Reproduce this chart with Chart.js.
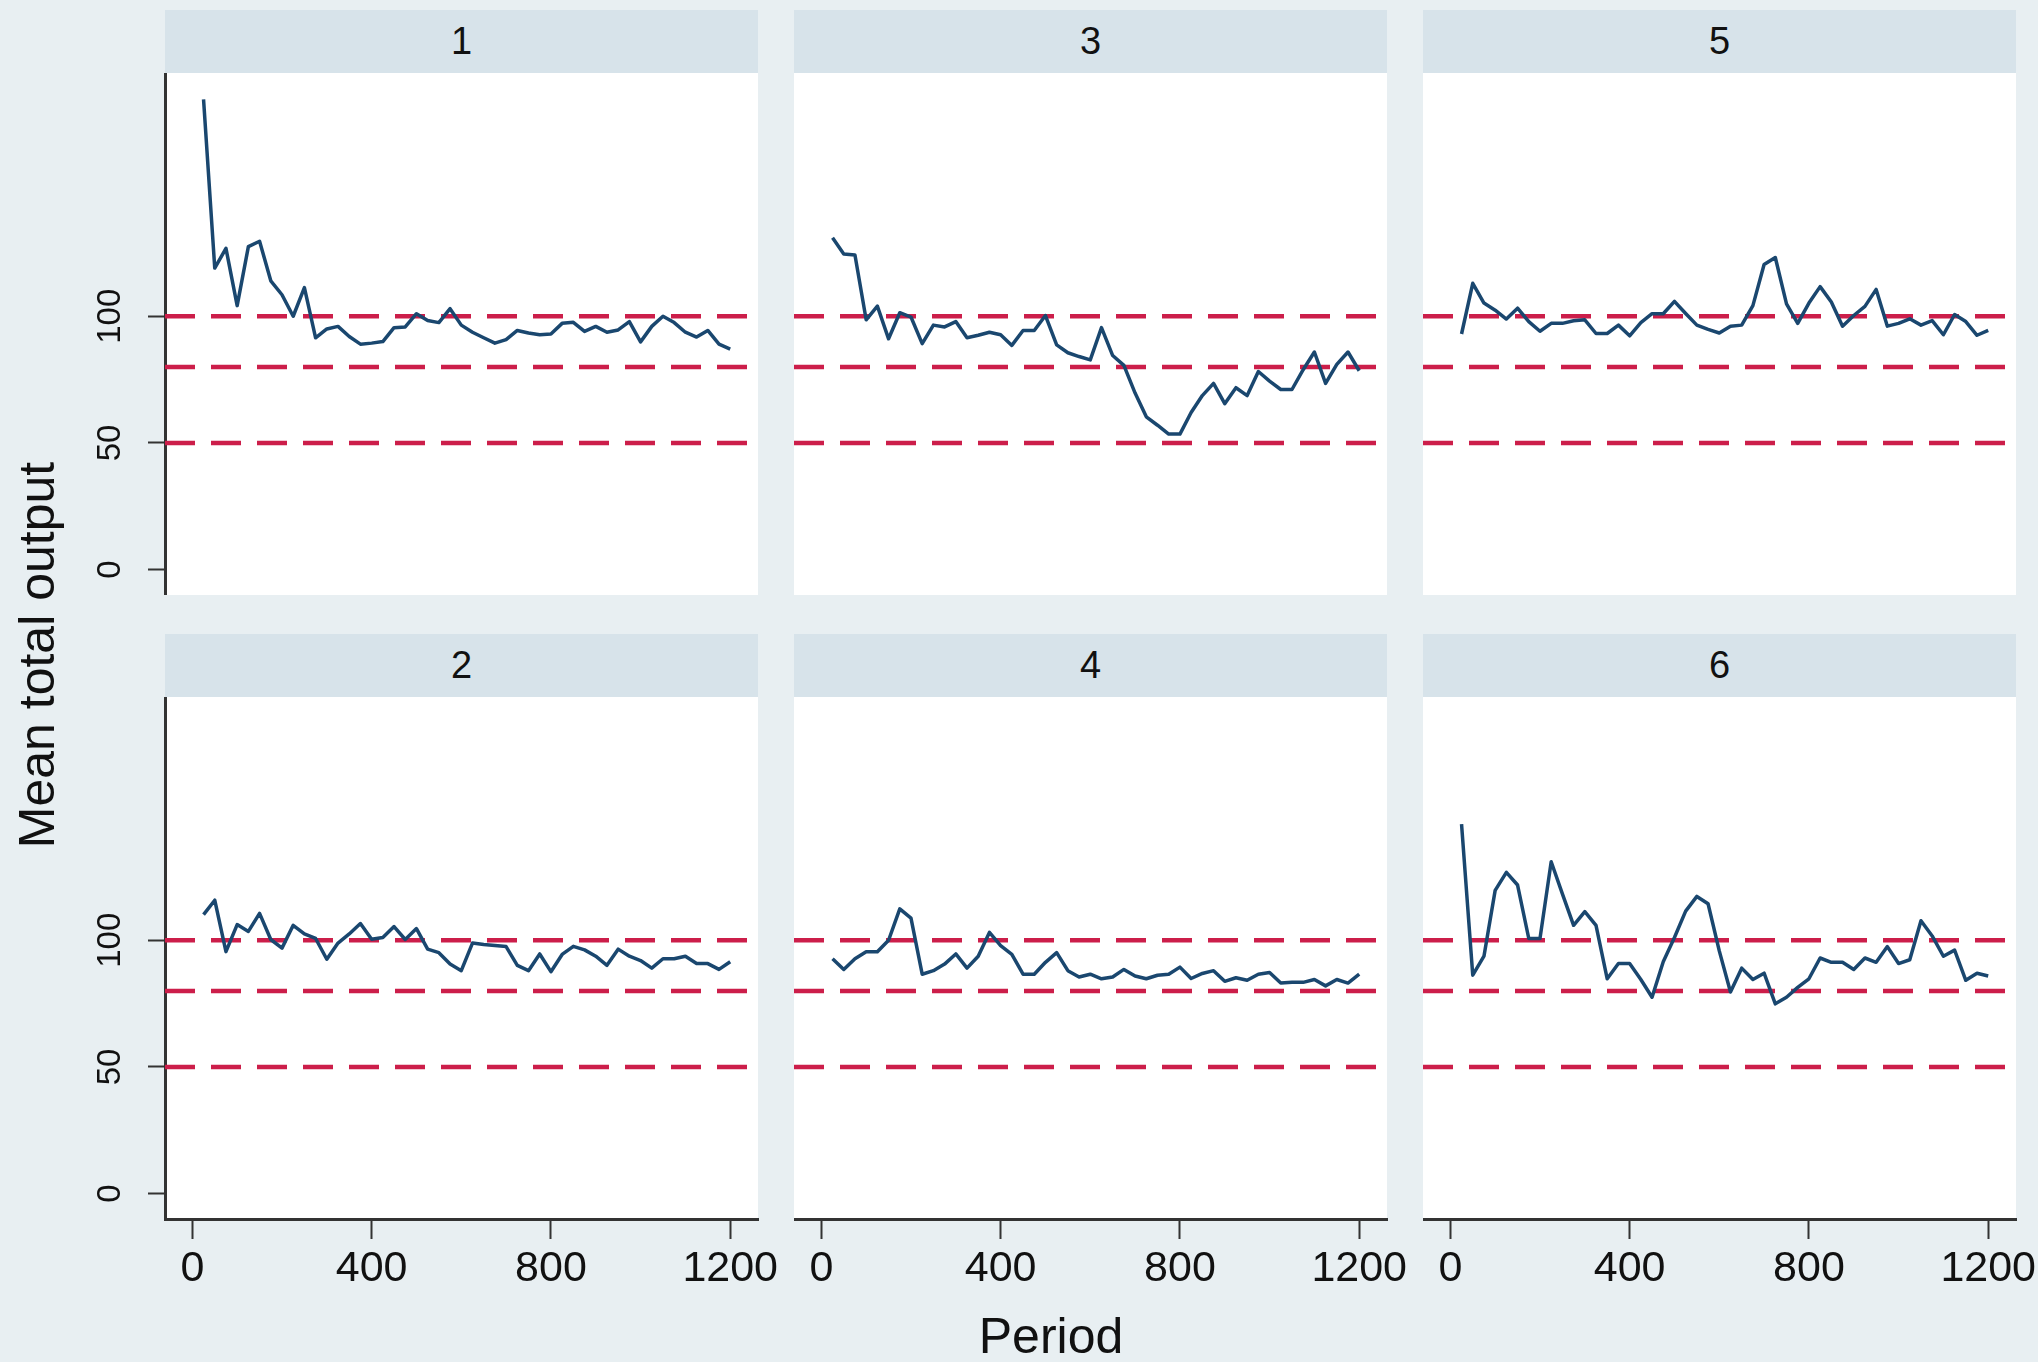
<!DOCTYPE html>
<html lang="en">
<head>
<meta charset="utf-8">
<title>Mean total output by period</title>
<script src="https://cdn.jsdelivr.net/npm/chart.js@4.4.1/dist/chart.umd.min.js"></script>
<style>
  html, body { margin: 0; padding: 0; background: #e8eff2; }
  #fig {
    position: relative; width: 2038px; height: 1362px; overflow: hidden;
    background: #e8eff2; color: #111;
    font-family: "Liberation Sans", Arial, sans-serif;
  }
  #fig canvas { position: absolute; }
  .strip { position: absolute; background: #d7e3ea; text-align: center; font-size: 38px; }
  .ytitle {
    position: absolute; left: -263px; top: 625px; width: 600px; height: 60px;
    line-height: 60px; text-align: center; font-size: 50px; white-space: nowrap;
    transform: rotate(-90deg);
  }
  .xtitle {
    position: absolute; left: 851px; top: 1311px; width: 400px; height: 50px;
    line-height: 50px; text-align: center; font-size: 50px;
  }
</style>
</head>
<body>
<div id="fig">
  <div class="ytitle">Mean total output</div>
  <div class="xtitle">Period</div>
</div>

<script>
// DATA
const periods = [25, 50, 75, 100, 125, 150, 175, 200, 225, 250, 275, 300,
  325, 350, 375, 400, 425, 450, 475, 500, 525, 550, 575, 600,
  625, 650, 675, 700, 725, 750, 775, 800, 825, 850, 875, 900,
  925, 950, 975, 1000, 1025, 1050, 1075, 1100, 1125, 1150, 1175, 1200];

const xTicks = [0, 400, 800, 1200];
const yTicks = [0, 50, 100];
const refLevels = [100, 80, 50];

const output1 = [185.6, 119, 126.8, 104.2, 127.5, 129.6, 114, 108.5, 100, 111.3, 91.5, 95,
  96, 92, 89, 89.4, 90, 95.5, 95.8, 101, 98.3, 97.5, 103, 96.5,
  93.7, 91.5, 89.4, 90.8, 94.4, 93.4, 92.7, 93, 97.2, 97.6, 94, 96,
  93.7, 94.6, 97.9, 89.9, 96, 100, 97.5, 93.7, 91.8, 94.4, 89, 87];
const output2 = [110.1, 115.8, 95.5, 106.2, 103.5, 110.6, 100.3, 96.9, 105.9, 102.5, 100.7, 92.5,
  98.9, 102.5, 106.6, 100.4, 101.1, 105.4, 100.3, 104.6, 96.5, 95.1, 90.6, 88,
  98.9, 98.3, 97.9, 97.5, 90.1, 88, 94.6, 87.6, 94.4, 97.6, 96.2, 93.7,
  90.1, 96.5, 93.7, 92, 89, 92.7, 92.7, 93.7, 90.8, 90.8, 88.5, 91.5];
const output3 = [131, 124.6, 124.2, 98.6, 104, 91.1, 101.4, 99.7, 89.2, 96.5, 95.8, 97.9,
  91.5, 92.5, 93.7, 92.7, 88.5, 94.4, 94.4, 100.3, 88.7, 85.6, 84.1, 82.8,
  95.5, 84.5, 80.6, 69.7, 60.3, 57, 53.5, 53.5, 62, 68.7, 73.5, 65.5,
  71.8, 68.7, 78.2, 74.4, 71.1, 71.1, 78.9, 85.9, 73.5, 81, 85.9, 78.5];
const output4 = [92.7, 88.5, 92.7, 95.5, 95.5, 100, 112.4, 108.7, 86.6, 88, 90.6, 94.6,
  89, 93.7, 103.1, 97.9, 94.4, 86.6, 86.6, 91.3, 95.1, 88, 85.5, 86.6,
  84.8, 85.5, 88.5, 85.9, 84.8, 86.2, 86.6, 89.4, 84.9, 86.9, 88, 83.8,
  85.2, 84.2, 86.6, 87.3, 83.1, 83.4, 83.4, 84.5, 82, 84.5, 83.1, 86.6];
const output5 = [93, 113, 105.2, 102.4, 98.9, 103.2, 97.9, 94.1, 97.2, 97.2, 98.2, 98.6,
  93.2, 93.2, 96.5, 92.3, 97.5, 101, 101, 105.9, 101.1, 96.5, 94.8, 93.4,
  96.1, 96.5, 104.2, 120.4, 123.2, 104.9, 97.2, 105.2, 111.7, 105.6, 96.1, 100.3,
  103.9, 110.6, 96.1, 97.2, 99, 96.5, 98.3, 92.7, 100.7, 97.9, 92.5, 94.4];
const output6 = [145.8, 86.2, 93.7, 119.7, 126.8, 121.8, 100.7, 100.7, 131, 118.3, 105.9, 111.3,
  105.9, 84.8, 90.8, 90.8, 84.5, 77.5, 91.5, 101.1, 111.5, 117.3, 114.4, 95.8,
  79.6, 89, 84.5, 87, 74.9, 77.5, 81.4, 84.8, 93, 91.3, 91.3, 88.5,
  93, 91.3, 97.5, 90.8, 92.3, 107.7, 101.7, 93.7, 96.1, 84.2, 87, 85.9];

// panels in grid order (row by row)
const panelNames = ['1', '3', '5', '2', '4', '6'];
const panelValues = [output1, output3, output5, output2, output4, output6];

// LAYOUT
const fig = document.getElementById('fig');
const colLeft = [165, 794, 1423];
const rowTop = [73, 697];
const plotW = 593, plotH = 522, stripH = 63;
const yAxisW = 70, xAxisH = 80, padRight = 40;
const xMin = -61, xMax = 1262, yMin = -10, yMax = 196;

Chart.defaults.font.family = "'Liberation Sans', Arial, sans-serif";

// white plot region behind the lines
const plotBg = {
  id: 'plotBg',
  beforeDraw(chart) {
    const a = chart.chartArea;
    const ctx = chart.ctx;
    ctx.save();
    ctx.fillStyle = '#ffffff';
    ctx.fillRect(a.left, a.top, a.right - a.left, a.bottom - a.top);
    ctx.restore();
  }
};

panelNames.forEach(function (name, k) {
  const col = k % 3;
  const row = Math.floor(k / 3);
  const hasY = col === 0;
  const hasX = row === 1;

  const strip = document.createElement('div');
  strip.className = 'strip';
  strip.style.left = colLeft[col] + 'px';
  strip.style.top = (rowTop[row] - stripH) + 'px';
  strip.style.width = plotW + 'px';
  strip.style.height = stripH + 'px';
  strip.style.lineHeight = stripH + 'px';
  strip.textContent = name;
  fig.appendChild(strip);

  const canvas = document.createElement('canvas');
  const w = plotW + (hasY ? yAxisW : 0) + padRight;
  const h = plotH + (hasX ? xAxisH : 0);
  canvas.width = w;
  canvas.height = h;
  canvas.style.width = w + 'px';
  canvas.style.height = h + 'px';
  canvas.style.left = (colLeft[col] - (hasY ? yAxisW : 0)) + 'px';
  canvas.style.top = rowTop[row] + 'px';
  fig.appendChild(canvas);

  const values = panelValues[k];
  const datasets = [{
    data: periods.map(function (p, i) { return { x: p, y: values[i] }; }),
    borderColor: '#1a476f',
    borderWidth: 3.5,
    borderJoinStyle: 'round',
    pointRadius: 0,
    tension: 0
  }];
  refLevels.forEach(function (v) {
    datasets.push({
      data: [{ x: xMin, y: v }, { x: xMax, y: v }],
      borderColor: '#cc1e4a',
      borderWidth: 4.5,
      borderDash: [30, 16],
      pointRadius: 0
    });
  });

  new Chart(canvas, {
    type: 'line',
    data: { datasets: datasets },
    options: {
      responsive: false,
      animation: false,
      events: [],
      layout: { padding: { left: 0, right: padRight, top: 0, bottom: 0 } },
      plugins: {
        legend: { display: false },
        tooltip: { enabled: false }
      },
      scales: {
        x: {
          type: 'linear',
          min: xMin,
          max: xMax,
          display: hasX,
          afterBuildTicks: function (s) { s.ticks = xTicks.map(function (v) { return { value: v }; }); },
          afterFit: function (s) {
            if (!hasX) return;
            s.height = xAxisH; s.paddingLeft = 0; s.paddingRight = 0;
          },
          grid: { drawOnChartArea: false, tickLength: 20, tickWidth: 2, tickColor: '#333' },
          border: { display: true, color: '#333', width: 3 },
          ticks: {
            autoSkip: false, maxRotation: 0, padding: 4,
            color: '#111', font: { size: 43 },
            callback: function (v) { return String(v); }
          }
        },
        y: {
          type: 'linear',
          min: yMin,
          max: yMax,
          display: hasY,
          afterBuildTicks: function (s) { s.ticks = yTicks.map(function (v) { return { value: v }; }); },
          afterFit: function (s) {
            if (!hasY) return;
            s.width = yAxisW; s.paddingTop = 0; s.paddingBottom = 0;
          },
          grid: { drawOnChartArea: false, tickLength: 17, tickWidth: 2, tickColor: '#333' },
          border: { display: true, color: '#333', width: 3 },
          ticks: {
            minRotation: 90, maxRotation: 90, crossAlign: 'center', padding: 10,
            color: '#111', font: { size: 33 },
            callback: function (v) { return String(v); }
          }
        }
      }
    },
    plugins: [plotBg]
  });
});
</script>
</body>
</html>
